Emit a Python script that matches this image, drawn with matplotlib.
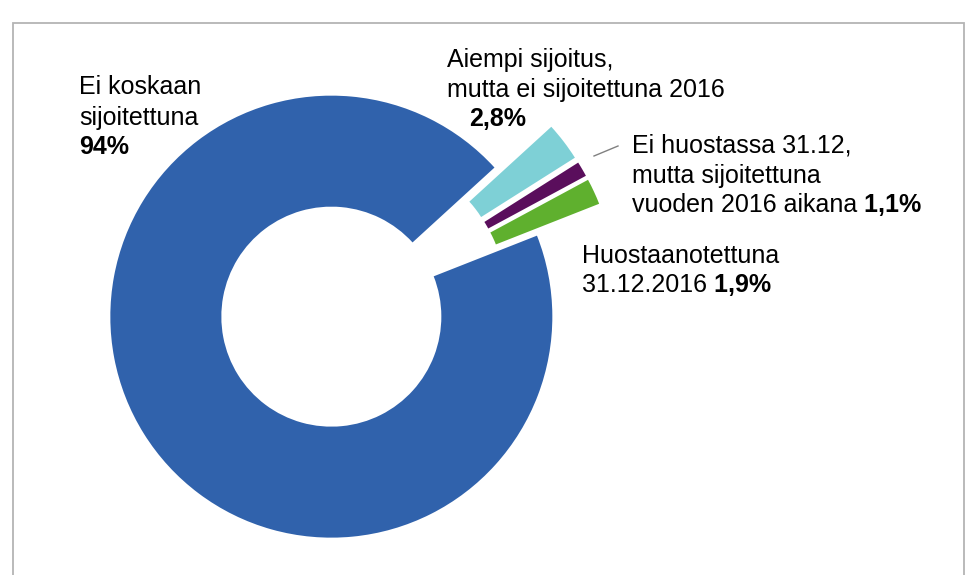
import matplotlib
matplotlib.use('Agg')
import matplotlib.pyplot as plt
from matplotlib.patches import Rectangle

# ---- data ----
categories = ["Ei koskaan sijoitettuna",
              "Aiempi sijoitus, mutta ei sijoitettuna 2016",
              "Ei huostassa 31.12, mutta sijoitettuna vuoden 2016 aikana",
              "Huostaanotettuna 31.12.2016"]
values = [94.0, 2.8, 1.1, 1.9]
value_labels = ["94%", "2,8%", "1,1%", "1,9%"]
colors = ["#3062ac", "#7ed0d6", "#5a0e5c", "#5fb02e"]

W, H = 967, 575
FS = 18
FAM = ['Liberation Sans', 'DejaVu Sans']

fig = plt.figure(figsize=(W / 100, H / 100), dpi=100)
ax = fig.add_axes([0, 0, 1, 1])

explode = [22, 48, 48, 48]
ax.pie(values, colors=colors, explode=explode, radius=221, center=(350, 270),
       startangle=21.5, counterclock=False, normalize=True,
       wedgeprops=dict(width=111, linewidth=0))
ax.set_xlim(0, W)
ax.set_ylim(0, H)
ax.set_aspect('equal')
ax.axis('off')

# frame
fig.patches.append(Rectangle((13 / W, -0.05), (964 - 13) / W, 1.05 - 23 / H,
                             transform=fig.transFigure, fill=False,
                             edgecolor='#b4b4b4', linewidth=1.3))


def txt(x, y, s, bold=False):
    return ax.text(x, H - y, s, fontsize=FS, family=FAM,
                   fontweight='bold' if bold else 'normal',
                   ha='left', va='baseline', color='black')


def txt_bold_after(t, s):
    return ax.annotate(s, xy=(1, 0), xycoords=t, ha='left', va='bottom',
                       fontsize=FS, family=FAM, fontweight='bold', color='black')


# label: Ei koskaan sijoitettuna
txt(79, 94, "Ei koskaan")
txt(79, 124.5, "sijoitettuna")
txt(79, 154.5, value_labels[0], bold=True)

# label: Aiempi sijoitus
txt(447, 66.5, "Aiempi sijoitus,")
txt(447, 96.5, "mutta ei sijoitettuna 2016")
txt(469, 126.5, value_labels[1], bold=True)

# label: Ei huostassa
txt(632, 153, "Ei huostassa 31.12,")
txt(632, 183, "mutta sijoitettuna")
t = txt(632, 212, "vuoden 2016 aikana")
txt_bold_after(t, " " + value_labels[2])

# label: Huostaanotettuna
txt(582, 263, "Huostaanotettuna")
t = txt(582, 292, "31.12.2016")
txt_bold_after(t, " " + value_labels[3])

# leader line
ax.plot([594, 618], [H - 156, H - 146], color='#808080', linewidth=1.0)

fig.savefig('out.png', dpi=100)
